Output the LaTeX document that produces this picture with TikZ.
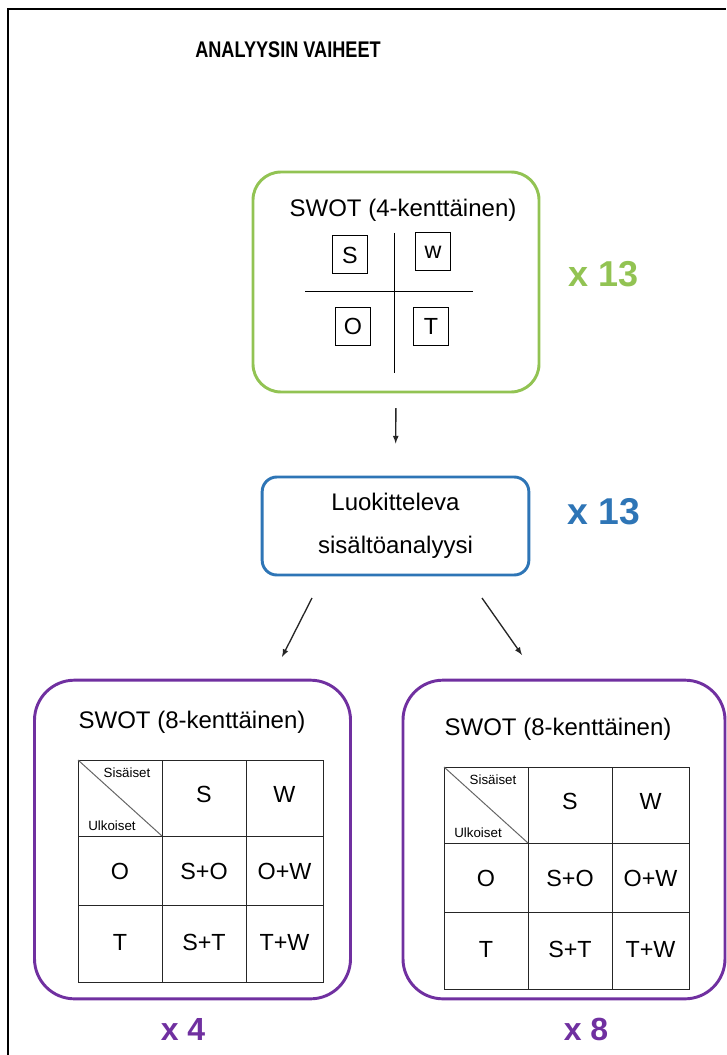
\documentclass[tikz,border=0pt]{standalone}
\usepackage{fontspec}
\setmainfont{Liberation Sans}
\newfontfamily\titlefont[FakeStretch=0.8]{Liberation Sans}
\usepackage{tikz}
\usetikzlibrary{arrows,positioning}
\definecolor{swotgreen}{HTML}{92C353}
\definecolor{swotblue}{HTML}{2E75B6}
\definecolor{swotpurple}{HTML}{7030A0}
\newcommand{\headfont}{\fontsize{18}{20}\selectfont}
\newcommand{\cellfont}{\fontsize{17.5}{20}\selectfont}
\newcommand{\tinyfont}{\fontsize{10}{11}\selectfont}
\newcommand{\countfont}{\bfseries\fontsize{27}{30}\selectfont}
\tikzstyle{roundbox}=[rectangle,draw,line width=2.2pt,inner sep=0pt]
\tikzstyle{greenbox}=[roundbox,draw=swotgreen,rounded corners=21pt,minimum width=214.5pt,minimum height=165pt]
\tikzstyle{bluebox}=[roundbox,draw=swotblue,rounded corners=11pt,minimum width=200pt,minimum height=73.5pt]
\tikzstyle{purplebox}=[roundbox,draw=swotpurple,rounded corners=30pt,minimum width=237pt,minimum height=239pt]
\tikzstyle{letterbox}=[rectangle,draw,line width=0.75pt,inner sep=0pt,minimum width=26pt,minimum height=28.5pt,font=\cellfont]
\tikzstyle{cell}=[font=\cellfont]
\tikzstyle{gridline}=[draw=black!85,line width=0.75pt]
\tikzstyle{countlabel}=[font=\countfont,inner sep=0pt]
\tikzstyle{arr}=[-latex,line width=1pt,black!85]
\newcommand{\swotGrid}[2]{
	\begin{scope}[shift={#2}]
		\node[font=\headfont] (#1head) at (114,-38) {SWOT (8-kenttäinen)};
		\draw[gridline] (0,0) rectangle (245,222);
		\draw[gridline] (84,0) -- (84,222);
		\draw[gridline] (168,0) -- (168,222);
		\draw[gridline] (0,76) -- (245,76);
		\draw[gridline] (0,145) -- (245,145);
		\draw[black!60,line width=0.75pt] (0,0) -- (84,76);
		\node[font=\tinyfont] (#1in) at (49,13) {Sisäiset};
		\node[font=\tinyfont] (#1out) at (34,66) {Ulkoiset};
		\node[cell] (#1s) at (126,34) {S};
		\node[cell] (#1w) at (206.5,34) {W};
		\node[cell] (#1o) at (42,111) {O};
		\node[cell] (#1so) at (126,111) {S+O};
		\node[cell] (#1ow) at (206.5,111) {O+W};
		\node[cell] (#1t) at (42,182) {T};
		\node[cell] (#1st) at (126,182) {S+T};
		\node[cell] (#1tw) at (206.5,182) {T+W};
	\end{scope}
}

\begin{document}
\begin{tikzpicture}[x=0.75pt,y=-0.75pt]
	\useasboundingbox (0,0) rectangle (726,1055);
	\draw[line width=1.5pt] (8,1055) -- (8,9) -- (726,9);
	\node[font=\titlefont\bfseries\fontsize{17}{18}\selectfont] (title) at (288,50) {ANALYYSIN VAIHEET};
	% step 1
	\node[greenbox] (swot4) at (396,282) {};
	\node[font=\headfont] (head4) at (403,210) {SWOT (4-kenttäinen)};
	\draw[line width=0.75pt] (394,233) -- (394,373);
	\draw[line width=0.75pt] (305,292) -- (473,292);
	\node[letterbox] (s4) at (350,255) {S};
	\node[letterbox] (w4) at (433,252) {w};
	\node[letterbox] (o4) at (353,326) {O};
	\node[letterbox] (t4) at (431,326) {T};
	\node[countlabel,text=swotgreen] (n1) at (604,274) {x 13};
	% step 2
	\node[bluebox,align=center,font=\fontsize{18}{32}\selectfont] (luok) at (395.5,526) {Luokitteleva\\sisältöanalyysi};
	\node[countlabel,text=swotblue,font=\bfseries\fontsize{28}{30}\selectfont] (n2) at (604,512) {x 13};
	\draw[arr,shorten <=11pt,shorten >=24pt] (swot4.south) -- (luok.north);
	% step 3
	\node[purplebox] (swot8a) at (192.5,839.5) {};
	\node[purplebox,minimum width=241.5pt] (swot8b) at (564,839.5) {};
	\swotGrid{a}{(78,760)}
	\swotGrid{b}{(444,767)}
	\coordinate (la) at (312,598);
	\coordinate (lb) at (282,657);
	\coordinate (ra) at (482,598);
	\coordinate (rb) at (522,655);
	\draw[arr] (la) -- (lb);
	\draw[arr] (ra) -- (rb);
	\node[countlabel,text=swotpurple,font=\bfseries\fontsize{24}{26}\selectfont] (n3) at (183,1029) {x 4};
	\node[countlabel,text=swotpurple,font=\bfseries\fontsize{24}{26}\selectfont] (n4) at (586,1029) {x 8};
\end{tikzpicture}
\end{document}
